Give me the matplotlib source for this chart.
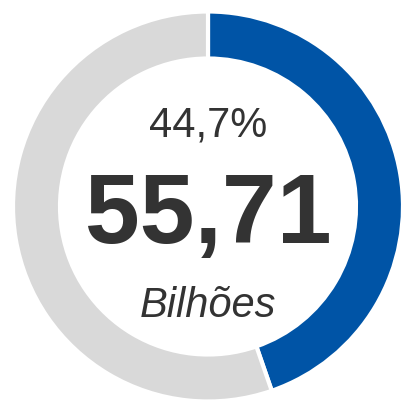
import matplotlib.pyplot as plt

share = 44.7
labels = ['Valor', 'Restante']
values = [share, 100 - share]
colors = ['#0054A6', '#D9D9D9']
pct_text = '44,7%'
value_text = '55,71'
unit_text = 'Bilhões'

plt.rcParams['font.family'] = ['Liberation Sans', 'DejaVu Sans']

W, H = 406, 407
fig = plt.figure(figsize=(W / 100, H / 100), dpi=100)
ax = fig.add_axes([0, 0, 1, 1])

# centre in pixels from the top
cx, cy, r = 208, 206.5, 195
ax.pie(values, colors=colors, startangle=90, counterclock=False,
       radius=r, center=(cx, H - cy), frame=True,
       wedgeprops=dict(width=47, edgecolor='white', linewidth=3))
ax.set_xlim(0, W)
ax.set_ylim(0, H)
ax.set_aspect('equal')
ax.axis('off')

ax.text(cx, H - 125, pct_text, ha='center', va='center', fontsize=30, color='#333333')
ax.text(cx, H - 218, value_text, ha='center', va='center', fontsize=71,
        fontweight='bold', color='#333333')
ax.text(cx, H - 306, unit_text, ha='center', va='center', fontsize=30,
        style='italic', color='#333333')

fig.savefig('out.png', dpi=100)
